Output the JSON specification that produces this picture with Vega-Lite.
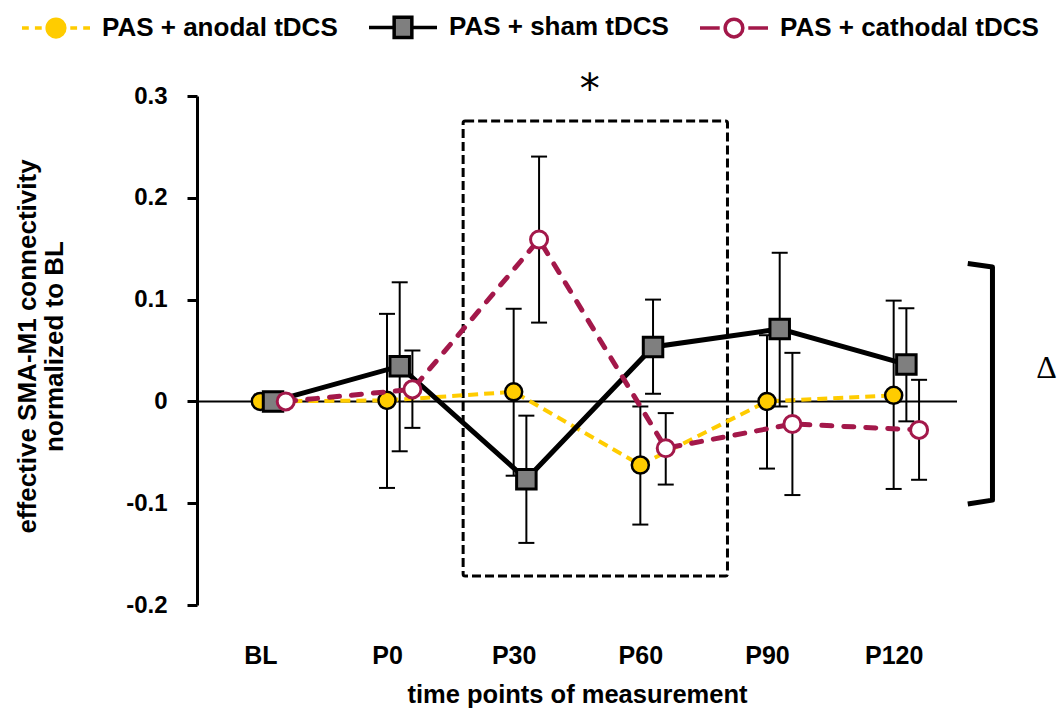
{
  "$schema": "https://vega.github.io/schema/vega-lite/v6.json",
  "autosize": {"type": "none"},
  "padding": {"left": 197, "top": 96, "right": 100, "bottom": 106},
  "width": 760,
  "height": 509,
  "config": {
    "view": {"stroke": null},
    "font": "Liberation Sans",
    "axis": {"grid": false, "labelColor": "black", "titleColor": "black", "labelFontWeight": "bold", "titleFontWeight": "bold"},
    "axisX": {
      "domain": false, "ticks": false, "labelPadding": 38, "labelFontSize": 25,
      "titleFontSize": 25.5, "titleBaseline": "alphabetic", "titleY": 97
    },
    "axisY": {
      "domainColor": "black", "domainWidth": 3, "tickColor": "black", "tickWidth": 3, "tickSize": 10,
      "labelPadding": 20, "labelFontSize": 24,
      "titleFontSize": 26, "titleAngle": -90, "titleBaseline": "top", "titleAlign": "center",
      "titleX": -183, "titleY": 250, "titleLineHeight": 27
    }
  },
  "datasets": {
    "pts": [
      {"series": "PAS + anodal tDCS", "time": "BL", "idx": 0, "mean": 0, "lo": null, "hi": null},
      {"series": "PAS + anodal tDCS", "time": "P0", "idx": 1, "mean": 0.001, "lo": -0.085, "hi": 0.086},
      {"series": "PAS + anodal tDCS", "time": "P30", "idx": 2, "mean": 0.0094, "lo": -0.073, "hi": 0.091},
      {"series": "PAS + anodal tDCS", "time": "P60", "idx": 3, "mean": -0.0625, "lo": -0.121, "hi": -0.005},
      {"series": "PAS + anodal tDCS", "time": "P90", "idx": 4, "mean": 0.0, "lo": -0.066, "hi": 0.065},
      {"series": "PAS + anodal tDCS", "time": "P120", "idx": 5, "mean": 0.006, "lo": -0.086, "hi": 0.099},
      {"series": "PAS + sham tDCS", "time": "BL", "idx": 0, "mean": 0, "lo": null, "hi": null},
      {"series": "PAS + sham tDCS", "time": "P0", "idx": 1, "mean": 0.0346, "lo": -0.049, "hi": 0.117},
      {"series": "PAS + sham tDCS", "time": "P30", "idx": 2, "mean": -0.0765, "lo": -0.139, "hi": -0.014},
      {"series": "PAS + sham tDCS", "time": "P60", "idx": 3, "mean": 0.0535, "lo": 0.0075, "hi": 0.1},
      {"series": "PAS + sham tDCS", "time": "P90", "idx": 4, "mean": 0.0712, "lo": -0.005, "hi": 0.146},
      {"series": "PAS + sham tDCS", "time": "P120", "idx": 5, "mean": 0.0363, "lo": -0.0196, "hi": 0.0915},
      {"series": "PAS + cathodal tDCS", "time": "BL", "idx": 0, "mean": 0, "lo": null, "hi": null},
      {"series": "PAS + cathodal tDCS", "time": "P0", "idx": 1, "mean": 0.0118, "lo": -0.026, "hi": 0.05},
      {"series": "PAS + cathodal tDCS", "time": "P30", "idx": 2, "mean": 0.159, "lo": 0.0774, "hi": 0.2405},
      {"series": "PAS + cathodal tDCS", "time": "P60", "idx": 3, "mean": -0.046, "lo": -0.0817, "hi": -0.0115},
      {"series": "PAS + cathodal tDCS", "time": "P90", "idx": 4, "mean": -0.0222, "lo": -0.092, "hi": 0.0477},
      {"series": "PAS + cathodal tDCS", "time": "P120", "idx": 5, "mean": -0.028, "lo": -0.077, "hi": 0.0212}
    ],
    "box": [{"x1": 1.601, "x2": 3.688, "y1": 0.2755, "y2": -0.1715}],
    "bracket": [
      {"bx": 5.585, "by": 0.1355, "o": 1},
      {"bx": 5.78, "by": 0.132, "o": 2},
      {"bx": 5.78, "by": -0.097, "o": 3},
      {"bx": 5.585, "by": -0.1008, "o": 4}
    ],
    "notes": [
      {"tx": 2.601, "ty": 0.293, "label": "*", "kind": "star"},
      {"tx": 6.207, "ty": 0.033, "label": "Δ", "kind": "delta"}
    ]
  },
  "layer": [
    {
      "data": {"name": "pts"},
      "transform": [{"filter": "datum.series == 'PAS + anodal tDCS'"}],
      "mark": {"type": "line", "color": "#FFCC00", "strokeWidth": 4, "strokeDash": [10, 6], "opacity": 0},
      "encoding": {
        "x": {
          "field": "idx", "type": "quantitative",
          "scale": {"domain": [-0.5, 5.5], "nice": false, "zero": false},
          "axis": {
            "values": [0, 1, 2, 3, 4, 5],
            "labelExpr": "['BL','P0','P30','P60','P90','P120'][datum.value]",
            "title": "time points of measurement"
          }
        },
        "y": {
          "field": "mean", "type": "quantitative",
          "scale": {"domain": [-0.2, 0.3], "nice": false, "zero": false},
          "axis": {
            "values": [-0.2, -0.1, 0, 0.1, 0.2, 0.3],
            "labelExpr": "datum.value == 0 ? '0' : '' + round(datum.value * 10) / 10",
            "title": ["effective SMA-M1 connectivity", "normalized to BL"]
          }
        }
      }
    },
    {
      "data": {"values": [{"zero": 0}]},
      "mark": {"type": "rule", "color": "black", "strokeWidth": 2},
      "encoding": {"y": {"field": "zero", "type": "quantitative"}}
    },
    {
      "data": {"name": "box"},
      "mark": {"type": "rect", "fill": "transparent", "stroke": "black", "strokeWidth": 3, "strokeDash": [9, 4], "cornerRadius": 2},
      "encoding": {
        "x": {"field": "x1", "type": "quantitative"},
        "x2": {"field": "x2"},
        "y": {"field": "y1", "type": "quantitative"},
        "y2": {"field": "y2"}
      }
    },
    {
      "data": {"name": "pts"},
      "transform": [{"filter": "datum.series == 'PAS + anodal tDCS'"}],
      "mark": {"type": "line", "color": "#FFCC00", "strokeWidth": 4, "strokeDash": [10, 6]},
      "encoding": {
        "x": {"field": "idx", "type": "quantitative"},
        "y": {"field": "mean", "type": "quantitative"}
      }
    },
    {
      "data": {"name": "pts"},
      "transform": [{"filter": "datum.series == 'PAS + anodal tDCS' && isValid(datum.lo)"}],
      "mark": {"type": "rule", "color": "black", "strokeWidth": 2},
      "encoding": {
        "x": {"field": "idx", "type": "quantitative"},
        "y": {"field": "lo", "type": "quantitative"},
        "y2": {"field": "hi"}
      }
    },
    {
      "data": {"name": "pts"},
      "transform": [{"filter": "datum.series == 'PAS + anodal tDCS' && isValid(datum.lo)"}],
      "mark": {"type": "tick", "orient": "horizontal", "color": "black", "size": 16, "thickness": 2, "opacity": 1},
      "encoding": {
        "x": {"field": "idx", "type": "quantitative"},
        "y": {"field": "hi", "type": "quantitative"}
      }
    },
    {
      "data": {"name": "pts"},
      "transform": [{"filter": "datum.series == 'PAS + anodal tDCS' && isValid(datum.lo)"}],
      "mark": {"type": "tick", "orient": "horizontal", "color": "black", "size": 16, "thickness": 2, "opacity": 1},
      "encoding": {
        "x": {"field": "idx", "type": "quantitative"},
        "y": {"field": "lo", "type": "quantitative"}
      }
    },
    {
      "data": {"name": "pts"},
      "transform": [{"filter": "datum.series == 'PAS + anodal tDCS'"}],
      "mark": {"type": "point", "shape": "circle", "size": 290, "filled": true, "fill": "#FFCC00", "stroke": "black", "strokeWidth": 2.5, "opacity": 1},
      "encoding": {
        "x": {"field": "idx", "type": "quantitative"},
        "y": {"field": "mean", "type": "quantitative"}
      }
    },
    {
      "data": {"name": "pts"},
      "transform": [{"filter": "datum.series == 'PAS + sham tDCS'"}],
      "mark": {"type": "line", "color": "black", "strokeWidth": 5, "xOffset": 12.7},
      "encoding": {
        "x": {"field": "idx", "type": "quantitative"},
        "y": {"field": "mean", "type": "quantitative"}
      }
    },
    {
      "data": {"name": "pts"},
      "transform": [{"filter": "datum.series == 'PAS + sham tDCS' && isValid(datum.lo)"}],
      "mark": {"type": "rule", "color": "black", "strokeWidth": 2, "xOffset": 12.7},
      "encoding": {
        "x": {"field": "idx", "type": "quantitative"},
        "y": {"field": "lo", "type": "quantitative"},
        "y2": {"field": "hi"}
      }
    },
    {
      "data": {"name": "pts"},
      "transform": [{"filter": "datum.series == 'PAS + sham tDCS' && isValid(datum.lo)"}],
      "mark": {"type": "tick", "orient": "horizontal", "color": "black", "size": 16, "thickness": 2, "opacity": 1, "xOffset": 12.7},
      "encoding": {
        "x": {"field": "idx", "type": "quantitative"},
        "y": {"field": "hi", "type": "quantitative"}
      }
    },
    {
      "data": {"name": "pts"},
      "transform": [{"filter": "datum.series == 'PAS + sham tDCS' && isValid(datum.lo)"}],
      "mark": {"type": "tick", "orient": "horizontal", "color": "black", "size": 16, "thickness": 2, "opacity": 1, "xOffset": 12.7},
      "encoding": {
        "x": {"field": "idx", "type": "quantitative"},
        "y": {"field": "lo", "type": "quantitative"}
      }
    },
    {
      "data": {"name": "pts"},
      "transform": [{"filter": "datum.series == 'PAS + sham tDCS'"}],
      "mark": {"type": "point", "shape": "square", "size": 380, "filled": true, "fill": "#7F7F7F", "stroke": "black", "strokeWidth": 3, "opacity": 1, "xOffset": 12.7},
      "encoding": {
        "x": {"field": "idx", "type": "quantitative"},
        "y": {"field": "mean", "type": "quantitative"}
      }
    },
    {
      "data": {"name": "pts"},
      "transform": [{"filter": "datum.series == 'PAS + cathodal tDCS'"}],
      "mark": {"type": "line", "color": "#A3184A", "strokeWidth": 5, "strokeDash": [10, 12], "strokeCap": "round", "xOffset": 25.4},
      "encoding": {
        "x": {"field": "idx", "type": "quantitative"},
        "y": {"field": "mean", "type": "quantitative"}
      }
    },
    {
      "data": {"name": "pts"},
      "transform": [{"filter": "datum.series == 'PAS + cathodal tDCS' && isValid(datum.lo)"}],
      "mark": {"type": "rule", "color": "black", "strokeWidth": 2, "xOffset": 25.4},
      "encoding": {
        "x": {"field": "idx", "type": "quantitative"},
        "y": {"field": "lo", "type": "quantitative"},
        "y2": {"field": "hi"}
      }
    },
    {
      "data": {"name": "pts"},
      "transform": [{"filter": "datum.series == 'PAS + cathodal tDCS' && isValid(datum.lo)"}],
      "mark": {"type": "tick", "orient": "horizontal", "color": "black", "size": 16, "thickness": 2, "opacity": 1, "xOffset": 25.4},
      "encoding": {
        "x": {"field": "idx", "type": "quantitative"},
        "y": {"field": "hi", "type": "quantitative"}
      }
    },
    {
      "data": {"name": "pts"},
      "transform": [{"filter": "datum.series == 'PAS + cathodal tDCS' && isValid(datum.lo)"}],
      "mark": {"type": "tick", "orient": "horizontal", "color": "black", "size": 16, "thickness": 2, "opacity": 1, "xOffset": 25.4},
      "encoding": {
        "x": {"field": "idx", "type": "quantitative"},
        "y": {"field": "lo", "type": "quantitative"}
      }
    },
    {
      "data": {"name": "pts"},
      "transform": [{"filter": "datum.series == 'PAS + cathodal tDCS'"}],
      "mark": {"type": "point", "shape": "circle", "size": 290, "filled": true, "fill": "white", "stroke": "#A3184A", "strokeWidth": 3, "opacity": 1, "xOffset": 25.4},
      "encoding": {
        "x": {"field": "idx", "type": "quantitative"},
        "y": {"field": "mean", "type": "quantitative"}
      }
    },
    {
      "data": {"name": "bracket"},
      "mark": {"type": "line", "color": "black", "strokeWidth": 5, "strokeJoin": "round"},
      "encoding": {
        "x": {"field": "bx", "type": "quantitative"},
        "y": {"field": "by", "type": "quantitative"},
        "order": {"field": "o", "type": "quantitative"}
      }
    },
    {
      "data": {"name": "notes"},
      "transform": [{"filter": "datum.kind == 'star'"}],
      "mark": {"type": "text", "font": "DejaVu Sans", "fontSize": 40, "color": "black", "align": "center", "baseline": "alphabetic"},
      "encoding": {
        "x": {"field": "tx", "type": "quantitative"},
        "y": {"field": "ty", "type": "quantitative"},
        "text": {"field": "label"}
      }
    },
    {
      "data": {"name": "notes"},
      "transform": [{"filter": "datum.kind == 'delta'"}],
      "mark": {"type": "text", "font": "Liberation Serif", "fontSize": 32, "color": "black", "align": "center", "baseline": "middle"},
      "encoding": {
        "x": {"field": "tx", "type": "quantitative"},
        "y": {"field": "ty", "type": "quantitative"},
        "text": {"field": "label"}
      }
    },
    {
      "data": {"name": "pts"},
      "transform": [{"filter": "datum.idx < 0"}],
      "mark": {"type": "point", "filled": true, "opacity": 1, "strokeWidth": 3.5},
      "encoding": {
        "x": {"field": "idx", "type": "quantitative"},
        "y": {"field": "mean", "type": "quantitative"},
        "shape": {
          "field": "series", "type": "nominal",
          "scale": {
            "domain": ["PAS + anodal tDCS", "PAS + sham tDCS", "PAS + cathodal tDCS"],
            "range": [
              "M-1,0L-0.8,0M-0.62,0L-0.42,0M-0.26,0A0.26,0.26 0 1,1 0.26,0A0.26,0.26 0 1,1 -0.26,0ZM0.42,0L0.62,0M0.8,0L1,0",
              "M-1,0L-0.26,0M0.26,0L1,0M-0.26,-0.3L0.26,-0.3L0.26,0.3L-0.26,0.3Z",
              "M-1,0L-0.42,0M-0.26,0A0.26,0.26 0 1,1 0.26,0A0.26,0.26 0 1,1 -0.26,0ZM0.42,0L1,0"
            ]
          },
          "legend": {
            "title": null, "orient": "none", "direction": "horizontal",
            "legendX": -177, "legendY": -105, "padding": 0,
            "symbolSize": 4624, "symbolStrokeWidth": 3.5,
            "labelFontSize": 26, "labelFontWeight": "bold", "labelColor": "black", "labelFont": "Liberation Sans",
            "labelOffset": 10, "columnPadding": 24, "labelLimit": 0
          }
        },
        "stroke": {
          "field": "series", "type": "nominal",
          "scale": {
            "domain": ["PAS + anodal tDCS", "PAS + sham tDCS", "PAS + cathodal tDCS"],
            "range": ["#FFCC00", "black", "#A3184A"]
          }
        },
        "fill": {
          "field": "series", "type": "nominal",
          "scale": {
            "domain": ["PAS + anodal tDCS", "PAS + sham tDCS", "PAS + cathodal tDCS"],
            "range": ["#FFCC00", "#7F7F7F", "white"]
          }
        }
      }
    }
  ]
}
